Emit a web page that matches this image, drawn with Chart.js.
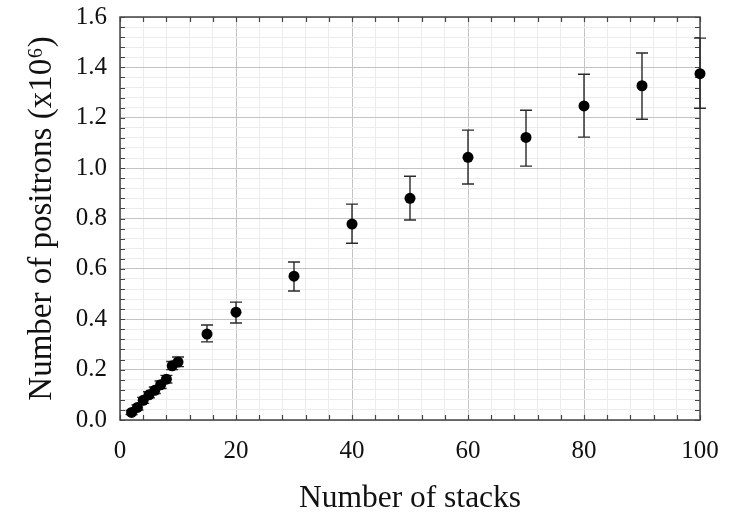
<!DOCTYPE html>
<html><head><meta charset="utf-8">
<style>html,body{margin:0;padding:0;background:#fff}#wrap{width:732px;height:518px}</style>
<script src="https://cdn.jsdelivr.net/npm/chart.js@4.4.0/dist/chart.umd.min.js"></script>
</head><body><div id="wrap"><canvas id="c" width="732" height="518"></canvas></div>
<script>
// ---- data ----
const stacks    = [2, 3, 4, 5, 6, 7, 8, 9, 10, 15, 20, 30, 40, 50, 60, 70, 80, 90, 100];
const positrons = [0.030, 0.050, 0.078, 0.100, 0.118, 0.140, 0.162, 0.215, 0.230, 0.341, 0.428, 0.571, 0.778, 0.880, 1.043, 1.122, 1.247, 1.327, 1.375];
const errLow    = [0.022, 0.040, 0.066, 0.088, 0.105, 0.125, 0.147, 0.200, 0.212, 0.310, 0.385, 0.512, 0.702, 0.794, 0.937, 1.008, 1.123, 1.194, 1.238];
const errHigh   = [0.038, 0.060, 0.090, 0.112, 0.131, 0.155, 0.177, 0.232, 0.250, 0.377, 0.468, 0.627, 0.857, 0.968, 1.151, 1.230, 1.373, 1.457, 1.516];
const xMajorStep = 20, xMinorStep = 4, xMin = 0, xMax = 100;
const yMajorStep = 0.2, yMinorStep = 0.04, yMin = 0, yMax = 1.6;
const xTitle = 'Number of stacks';
const yTitle = 'Number of positrons (x10\u2076)';

const FONT = '"Liberation Serif", "Times New Roman", serif';
const isMajorX = v => Math.abs(v / xMajorStep - Math.round(v / xMajorStep)) < 1e-6;
const isMajorY = v => Math.abs(v / yMajorStep - Math.round(v / yMajorStep)) < 1e-6;

const framePlugin = {
  id: 'frameTicksErrors',
  beforeDatasetsDraw(chart) {
    const {ctx, chartArea: a, scales: {x, y}} = chart;
    ctx.save();
    // inward ticks
    ctx.strokeStyle = '#444';
    ctx.lineWidth = 1.2;
    ctx.beginPath();
    x.ticks.forEach(t => {
      const px = Math.round(x.getPixelForValue(t.value)) + 0.5;
      const len = 5;
      ctx.moveTo(px, a.bottom); ctx.lineTo(px, a.bottom - len);
      ctx.moveTo(px, a.top); ctx.lineTo(px, a.top + len);
    });
    y.ticks.forEach(t => {
      const py = Math.round(y.getPixelForValue(t.value)) + 0.5;
      const len = 5;
      ctx.moveTo(a.left, py); ctx.lineTo(a.left + len, py);
      ctx.moveTo(a.right, py); ctx.lineTo(a.right - len, py);
    });
    ctx.stroke();
    // frame
    ctx.strokeStyle = '#444';
    ctx.lineWidth = 1.5;
    ctx.strokeRect(a.left, a.top, a.right - a.left, a.bottom - a.top);
    // error bars
    ctx.strokeStyle = '#2a2a2a';
    ctx.lineWidth = 1.4;
    const cap = 6;
    ctx.beginPath();
    stacks.forEach((s, i) => {
      const px = x.getPixelForValue(s);
      const lo = y.getPixelForValue(errLow[i]);
      const hi = y.getPixelForValue(errHigh[i]);
      ctx.moveTo(px, lo); ctx.lineTo(px, hi);
      ctx.moveTo(px - cap, lo); ctx.lineTo(px + cap, lo);
      ctx.moveTo(px - cap, hi); ctx.lineTo(px + cap, hi);
    });
    ctx.stroke();
    ctx.restore();
  }
};

new Chart(document.getElementById('c'), {
  type: 'scatter',
  data: {
    datasets: [{
      data: stacks.map((s, i) => ({x: s, y: positrons[i]})),
      pointRadius: 5.5,
      pointHoverRadius: 5.5,
      backgroundColor: '#000',
      borderColor: '#000',
      borderWidth: 0,
      clip: false
    }]
  },
  options: {
    responsive: false,
    animation: false,
    devicePixelRatio: 1,
    layout: {padding: {top: 17, right: 32, left: 0, bottom: 0}},
    plugins: {legend: {display: false}, tooltip: {enabled: false}},
    scales: {
      x: {
        type: 'linear', min: xMin, max: xMax,
        border: {display: false},
        grid: {
          drawTicks: false,
          color: c => isMajorX(c.tick.value) ? '#c4c4c4' : '#ececec',
          lineWidth: 1
        },
        ticks: {
          stepSize: xMinorStep,
          autoSkip: false,
          maxRotation: 0,
          padding: 16,
          color: '#111',
          font: {family: FONT, size: 25},
          callback: v => isMajorX(v) ? String(Math.round(v)) : ''
        },
        title: {display: true, text: xTitle, color: '#111', font: {family: FONT, size: 31.5}, padding: {top: 0, bottom: 0}},
        afterFit: s => { s.height = 98; s.paddingLeft = 0; s.paddingRight = 0; }
      },
      y: {
        type: 'linear', min: yMin, max: yMax,
        border: {display: false},
        grid: {
          drawTicks: false,
          color: c => isMajorY(c.tick.value) ? '#c4c4c4' : '#ececec',
          lineWidth: 1
        },
        ticks: {
          stepSize: yMinorStep,
          autoSkip: false,
          padding: 13,
          color: '#111',
          font: {family: FONT, size: 25},
          callback: v => isMajorY(v) ? v.toFixed(1) : ''
        },
        title: {display: true, text: yTitle, color: '#111', font: {family: FONT, size: 33}, padding: {top: 23, bottom: 0}},
        afterFit: s => { s.width = 120; s.paddingTop = 0; s.paddingBottom = 0; }
      }
    }
  },
  plugins: [framePlugin]
});
</script>
</body></html>
